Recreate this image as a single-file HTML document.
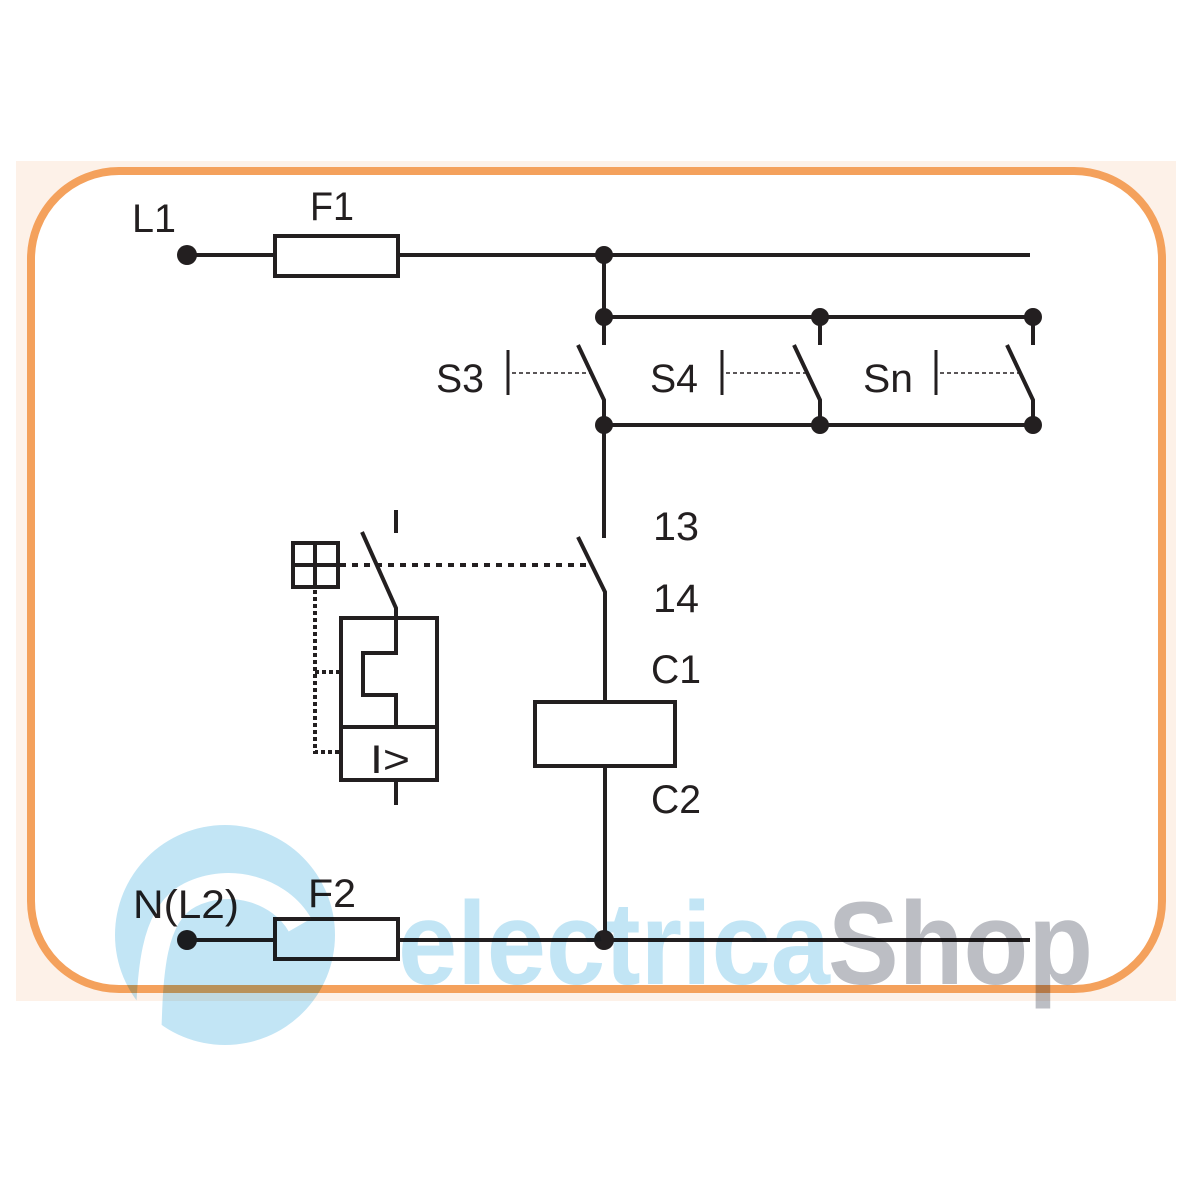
<!DOCTYPE html>
<html><head><meta charset="utf-8"><style>
html,body{margin:0;padding:0;background:#fff;width:1200px;height:1200px;overflow:hidden}
svg{display:block}
text{font-family:"Liberation Sans",sans-serif;fill:#231f20}
</style></head><body>
<svg width="1200" height="1200" viewBox="0 0 1200 1200" xmlns="http://www.w3.org/2000/svg">
<rect x="16" y="161" width="1160" height="840" fill="#fdf1e8"/>
<rect x="31" y="171" width="1131" height="818" rx="88" ry="88" fill="#fff" stroke="#f4a15c" stroke-width="8"/>
<g stroke="#231f20" stroke-width="4" fill="none" stroke-linecap="butt">
<line x1="187" y1="255" x2="1030" y2="255"/>
<rect x="275" y="236" width="123" height="40" fill="#fff"/>
<line x1="604" y1="255" x2="604" y2="345"/>
<line x1="604" y1="317" x2="1033" y2="317"/>
<line x1="820" y1="317" x2="820" y2="345"/>
<line x1="1033" y1="317" x2="1033" y2="345"/>
<polyline points="578,345 604,400 604,425"/>
<polyline points="794,345 820,400 820,425"/>
<polyline points="1007,345 1033,400 1033,425"/>
<line x1="604" y1="425" x2="1033" y2="425"/>
<line x1="508" y1="350" x2="508" y2="395" stroke-width="3"/>
<line x1="722" y1="350" x2="722" y2="395" stroke-width="3"/>
<line x1="936" y1="350" x2="936" y2="395" stroke-width="3"/>
<g stroke-width="1.5" stroke-dasharray="4,3">
<line x1="512" y1="373" x2="590" y2="373"/>
<line x1="726" y1="373" x2="806" y2="373"/>
<line x1="940" y1="373" x2="1019" y2="373"/>
</g>
<line x1="604" y1="425" x2="604" y2="538"/>
<polyline points="578,537 605,592 605,702"/>
<rect x="535" y="702" width="140" height="64"/>
<line x1="605" y1="766" x2="605" y2="940"/>
<line x1="396" y1="510" x2="396" y2="533"/>
<polyline points="362,532 396,608 396,653 363,653 363,695 396,695 396,727"/>
<rect x="341" y="618" width="96" height="162"/>
<line x1="341" y1="727" x2="437" y2="727"/>
<line x1="396" y1="780" x2="396" y2="805"/>
<rect x="293" y="543" width="45" height="44"/>
<line x1="315" y1="543" x2="315" y2="587"/>
<line x1="293" y1="565" x2="338" y2="565"/>
<g stroke-dasharray="6,6">
<line x1="340" y1="565" x2="590" y2="565"/>
<polyline points="315,590 315,752 341,752" stroke-dasharray="4,3"/>
<line x1="315" y1="672" x2="341" y2="672" stroke-dasharray="4,3"/>
</g>
<line x1="187" y1="940" x2="1030" y2="940"/>
<rect x="275" y="919" width="123" height="40" fill="#fff"/>
</g>
<g fill="#231f20">
<circle cx="187" cy="255" r="10"/>
<circle cx="604" cy="255" r="9"/>
<circle cx="604" cy="317" r="9"/>
<circle cx="820" cy="317" r="9"/>
<circle cx="1033" cy="317" r="9"/>
<circle cx="604" cy="425" r="9"/>
<circle cx="820" cy="425" r="9"/>
<circle cx="1033" cy="425" r="9"/>
<circle cx="187" cy="940" r="10"/>
<circle cx="604" cy="940" r="10"/>
</g>
<g font-size="40" style="font-stretch:condensed">
<text x="132" y="232" textLength="44" lengthAdjust="spacingAndGlyphs">L1</text>
<text x="310" y="220" textLength="44" lengthAdjust="spacingAndGlyphs">F1</text>
<text x="436" y="392" textLength="48" lengthAdjust="spacingAndGlyphs">S3</text>
<text x="650" y="392" textLength="48" lengthAdjust="spacingAndGlyphs">S4</text>
<text x="863" y="392" textLength="50" lengthAdjust="spacingAndGlyphs">Sn</text>
<text x="653" y="540" textLength="46" lengthAdjust="spacingAndGlyphs">13</text>
<text x="653" y="612" textLength="46" lengthAdjust="spacingAndGlyphs">14</text>
<text x="651" y="683" textLength="50" lengthAdjust="spacingAndGlyphs">C1</text>
<text x="651" y="813" textLength="50" lengthAdjust="spacingAndGlyphs">C2</text>
<text x="133" y="918" textLength="106" lengthAdjust="spacingAndGlyphs">N(L2)</text>
<text x="308" y="907" textLength="48" lengthAdjust="spacingAndGlyphs">F2</text>
<text x="370" y="773" font-size="40" textLength="40" lengthAdjust="spacingAndGlyphs">I&gt;</text>
</g>
<g style="mix-blend-mode:multiply">
<circle cx="225" cy="935" r="110" fill="#c2e5f5"/>
<path d="M148,1045 C150,980 150,915 190,895 C230,875 280,890 300,925" fill="none" stroke="#fff" stroke-width="26"/>
<rect x="100" y="1046" width="260" height="20" fill="#fff"/>
<text x="398" y="984" font-size="118" font-weight="bold" style="fill:#c2e5f5" textLength="432" lengthAdjust="spacingAndGlyphs">electrica</text>
<text x="828" y="984" font-size="118" font-weight="bold" style="fill:#bcbec4" textLength="265" lengthAdjust="spacingAndGlyphs">Shop</text>
</g>
</svg>
</body></html>
